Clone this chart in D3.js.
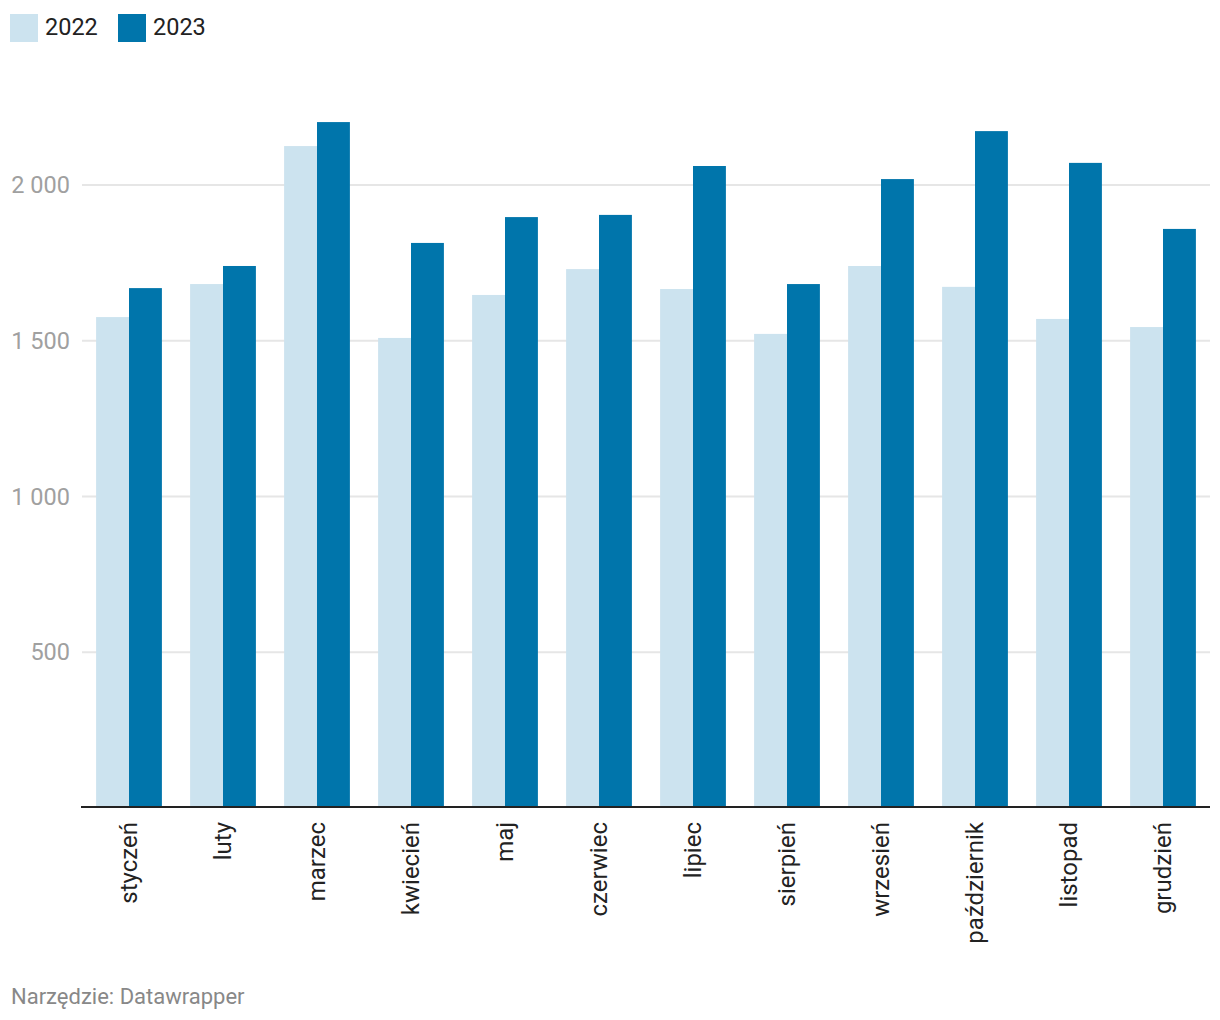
<!DOCTYPE html>
<html><head><meta charset="utf-8">
<script src="https://cdn.jsdelivr.net/npm/d3@7"></script>
<style>body{margin:0;background:#fff;font-family:Roboto,sans-serif;}</style>
</head><body>
<svg id="c" width="1220" height="1020"></svg>
<script>
const months = ["styczeń","luty","marzec","kwiecień","maj","czerwiec","lipiec","sierpień","wrzesień","październik","listopad","grudzień"];
const series = ["2022","2023"];
const values2022 = [1576,1682,2125,1509,1647,1730,1666,1522,1740,1673,1570,1544];
const values2023 = [1669,1740,2202,1814,1897,1904,2061,1682,2019,2173,2071,1859];
const yTicks = [500,1000,1500,2000];
const colors = ["#cce3ef","#0075ab"];

const svg = d3.select("#c");
const x = d3.scaleBand().domain(months).range([82,1210]).paddingInner(0.3).paddingOuter(0.15);
const xs = d3.scaleBand().domain(series).range([0,x.bandwidth()]);
const y = d3.scaleLinear().domain([0,2000]).range([808,185]);
const fmt = v => d3.format(",")(v).replace(/,/g," ");

// grid
const g = svg.append("g");
g.selectAll("line.grid").data(yTicks).join("line")
  .attr("x1",82).attr("x2",1210).attr("y1",d=>y(d)).attr("y2",d=>y(d))
  .attr("stroke","#e6e6e6").attr("stroke-width",2);
g.selectAll("text.yl").data(yTicks).join("text")
  .attr("x",70).attr("y",d=>y(d)).attr("dy","0.35em").attr("text-anchor","end")
  .attr("fill","#a0a0a0").attr("font-size",23.5).text(fmt);

const data = months.map((m,i)=>({m, vals:[values2022[i],values2023[i]]}));
const grp = svg.append("g").selectAll("g").data(data).join("g")
  .attr("transform",d=>`translate(${x(d.m)},0)`);
grp.selectAll("rect").data(d=>d.vals.map((v,j)=>({s:series[j],v,j}))).join("rect")
  .attr("x",d=>xs(d.s)).attr("width",xs.bandwidth())
  .attr("y",d=>y(d.v)).attr("height",d=>y(0)-y(d.v))
  .attr("fill",d=>colors[d.j]);

// x axis line
svg.append("line").attr("x1",81).attr("x2",1210).attr("y1",807).attr("y2",807)
  .attr("stroke","#222").attr("stroke-width",2);

// x labels
svg.append("g").selectAll("text").data(months).join("text")
  .attr("transform",d=>`translate(${x(d)+x.bandwidth()/2},822) rotate(-90)`)
  .attr("text-anchor","end").attr("dy","0.35em")
  .attr("fill","#222").attr("font-size",24).text(d=>d);

// legend
const lg = svg.append("g");
const lx = [10,118];
series.forEach((s,i)=>{
  lg.append("rect").attr("x",lx[i]).attr("y",14).attr("width",28).attr("height",28).attr("fill",colors[i]);
  lg.append("text").attr("x",lx[i]+35).attr("y",27).attr("dy","0.35em").attr("font-size",23.5).attr("fill","#222").text(s);
});

// footer
svg.append("text").attr("x",11).attr("y",1004).attr("font-size",22).attr("fill","#888").text("Narzędzie: Datawrapper");
</script>
</body></html>
